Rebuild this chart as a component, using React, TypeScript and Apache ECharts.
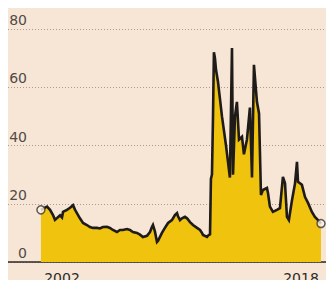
import React, { useEffect, useRef } from "react";
import * as echarts from "echarts";

const years: number[] = [
  2000.59, 2000.8, 2001.0, 2001.2, 2001.4, 2001.53, 2001.67, 2001.87, 2002.0, 2002.07,
  2002.33, 2002.54, 2002.74, 2002.87, 2003.0, 2003.2, 2003.41, 2003.67, 2003.87, 2004.07,
  2004.34, 2004.54, 2004.74, 2005.01, 2005.21, 2005.41, 2005.68, 2005.88, 2006.08, 2006.35,
  2006.55, 2006.75, 2007.02, 2007.22, 2007.42, 2007.69, 2007.89, 2008.02, 2008.09, 2008.22,
  2008.36, 2008.43, 2008.69, 2008.89, 2009.1, 2009.36, 2009.56, 2009.7, 2009.76, 2009.9,
  2010.03, 2010.23, 2010.37, 2010.57, 2010.77, 2011.04, 2011.24, 2011.37, 2011.44, 2011.71,
  2011.77, 2011.91, 2011.97, 2012.04, 2012.11, 2012.17, 2012.24, 2012.31, 2012.44, 2012.71,
  2012.98, 2013.24, 2013.38, 2013.45, 2013.58, 2013.71, 2013.85, 2014.05, 2014.18, 2014.38,
  2014.58, 2014.72, 2014.85, 2015.05, 2015.19, 2015.32, 2015.45, 2015.72, 2015.79, 2015.92,
  2016.12, 2016.39, 2016.59, 2016.79, 2016.93, 2017.06, 2017.19, 2017.39, 2017.6, 2017.73,
  2017.8, 2018.06, 2018.27, 2018.47, 2018.73, 2018.93, 2019.14, 2019.34,
];

const values: number[] = [
  17.9, 18.5, 19.0, 17.9, 16.1, 14.5, 15.1, 16.0, 15.3, 17.2,
  17.9, 18.6, 19.5, 18.0, 16.8, 15.0, 13.4, 12.7, 12.0, 11.7,
  11.7, 11.5, 12.0, 12.1, 11.7, 11.0, 10.3, 11.0, 11.0, 11.3,
  11.0, 10.3, 10.0, 9.4, 8.6, 9.0, 10.3, 12.0, 12.7, 10.5,
  6.9, 7.3, 10.0, 11.7, 13.4, 14.4, 16.1, 16.8, 15.8, 14.4,
  15.0, 15.5, 15.0, 13.7, 12.7, 11.7, 11.0, 10.0, 9.3, 8.6,
  9.0, 9.5, 28.5, 30.0, 50.0, 72.0, 70.0, 66.0, 62.0, 50.0,
  40.0, 29.0, 73.5, 30.0, 50.0, 55.0, 42.0, 43.0, 37.0, 42.0,
  53.0, 29.0, 67.7, 55.0, 51.0, 23.0, 24.7, 25.4, 23.7, 19.0,
  17.2, 17.9, 18.5, 29.2, 27.0, 15.5, 14.4, 21.0, 27.0, 34.4,
  27.5, 26.5, 22.3, 20.3, 17.2, 15.5, 14.4, 13.2,
];

const yTicks: number[] = [0, 20, 40, 60, 80];
const xTickYears: number[] = [2002, 2018];

const BG = "#f7e6d6";
const TEXT = "#4f4a46";

export default function App() {
  const ref = useRef<HTMLDivElement>(null);

  useEffect(() => {
    if (!ref.current) return;
    const chart = echarts.init(ref.current, undefined, { renderer: "svg" });
    const seriesData = years.map((y, i) => [y, values[i]]);
    const ends = [seriesData[0], seriesData[seriesData.length - 1]];
    chart.setOption({
      animation: false,
      backgroundColor: BG,
      grid: { left: 8, right: 0, top: 29, bottom: 26, containLabel: false },
      xAxis: {
        type: "value",
        min: 1998.386,
        max: 2020.209,
        axisLine: { show: true, lineStyle: { color: "#2b2725", width: 1.5 } },
        axisTick: { show: false },
        splitLine: { show: false },
        axisLabel: {
          customValues: xTickYears,
          formatter: (v: number) => String(Math.round(v)),
          color: "#2e2a28",
          fontFamily: "DejaVu Sans",
          fontSize: 14,
          margin: 9,
        },
      },
      yAxis: {
        type: "value",
        min: yTicks[0],
        max: yTicks[yTicks.length - 1],
        interval: 20,
        axisLine: { show: false },
        axisTick: { show: false },
        axisLabel: {
          inside: true,
          align: "right",
          verticalAlign: "bottom",
          margin: 19,
          padding: [0, 0, 2, 0],
          color: TEXT,
          fontFamily: "DejaVu Sans",
          fontSize: 14,
        },
        splitLine: {
          show: true,
          lineStyle: { color: "#a89a8e", type: [1, 2], width: 1 },
        },
      },
      series: [
        {
          type: "line",
          data: seriesData,
          symbol: "none",
          lineStyle: { color: "#1e1b19", width: 2.6, join: "miter" },
          areaStyle: { color: "#f0c30f", opacity: 1 },
          z: 2,
        },
        {
          type: "scatter",
          data: ends,
          symbol: "circle",
          symbolSize: 8,
          itemStyle: { color: "#fbf3ea", borderColor: "#3a3533", borderWidth: 1.5 },
          z: 3,
        },
      ],
    });
    return () => chart.dispose();
  }, []);

  return <div ref={ref} style={{ width: 334, height: 288, margin: -8 }} />;
}
